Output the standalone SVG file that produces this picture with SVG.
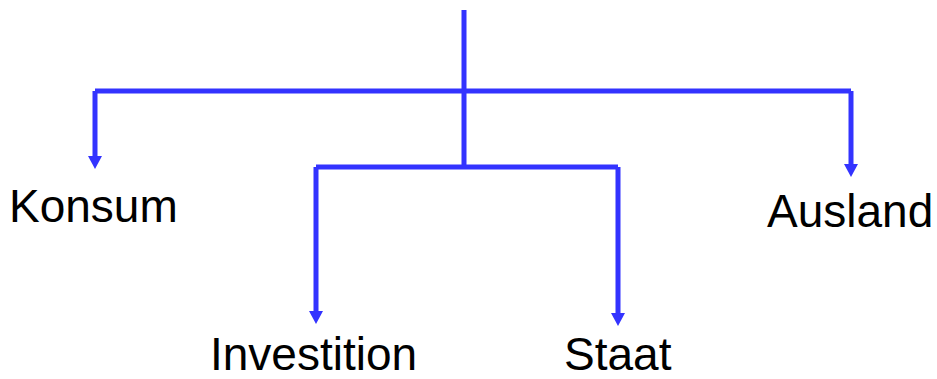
<svg xmlns="http://www.w3.org/2000/svg" width="937" height="379" viewBox="0 0 937 379">
<defs>
<style>
.conn{fill:none;stroke:#3333FF;stroke-width:5;stroke-linejoin:miter}
.arrow{marker-end:url(#arr)}
.lbl{font-family:"Liberation Sans",Arial,sans-serif;font-size:46px;fill:#000}
</style>
<marker id="arr" markerUnits="userSpaceOnUse" markerWidth="13" markerHeight="14" viewBox="0 0 13 14" refX="3" refY="7" orient="auto">
<path d="M0,0 L13,7 L0,14 Z" fill="#3333FF"/>
</marker>
</defs>
<g id="connectors">
<path class="conn" d="M464,10 V168"/>
<path class="conn" d="M95,91 H851"/>
<path class="conn arrow" d="M95,91 V159"/>
<path class="conn arrow" d="M851,91 V167"/>
<path class="conn" d="M316,167 H618"/>
<path class="conn arrow" d="M316,167 V314"/>
<path class="conn arrow" d="M618,167 V316"/>
</g>
<g id="konsum"><text class="lbl" x="9" y="222">Konsum</text></g>
<g id="ausland"><text class="lbl" x="767" y="227">Ausland</text></g>
<g id="investition"><text class="lbl" x="210" y="370">Investition</text></g>
<g id="staat"><text class="lbl" x="564" y="370">Staat</text></g>
</svg>
